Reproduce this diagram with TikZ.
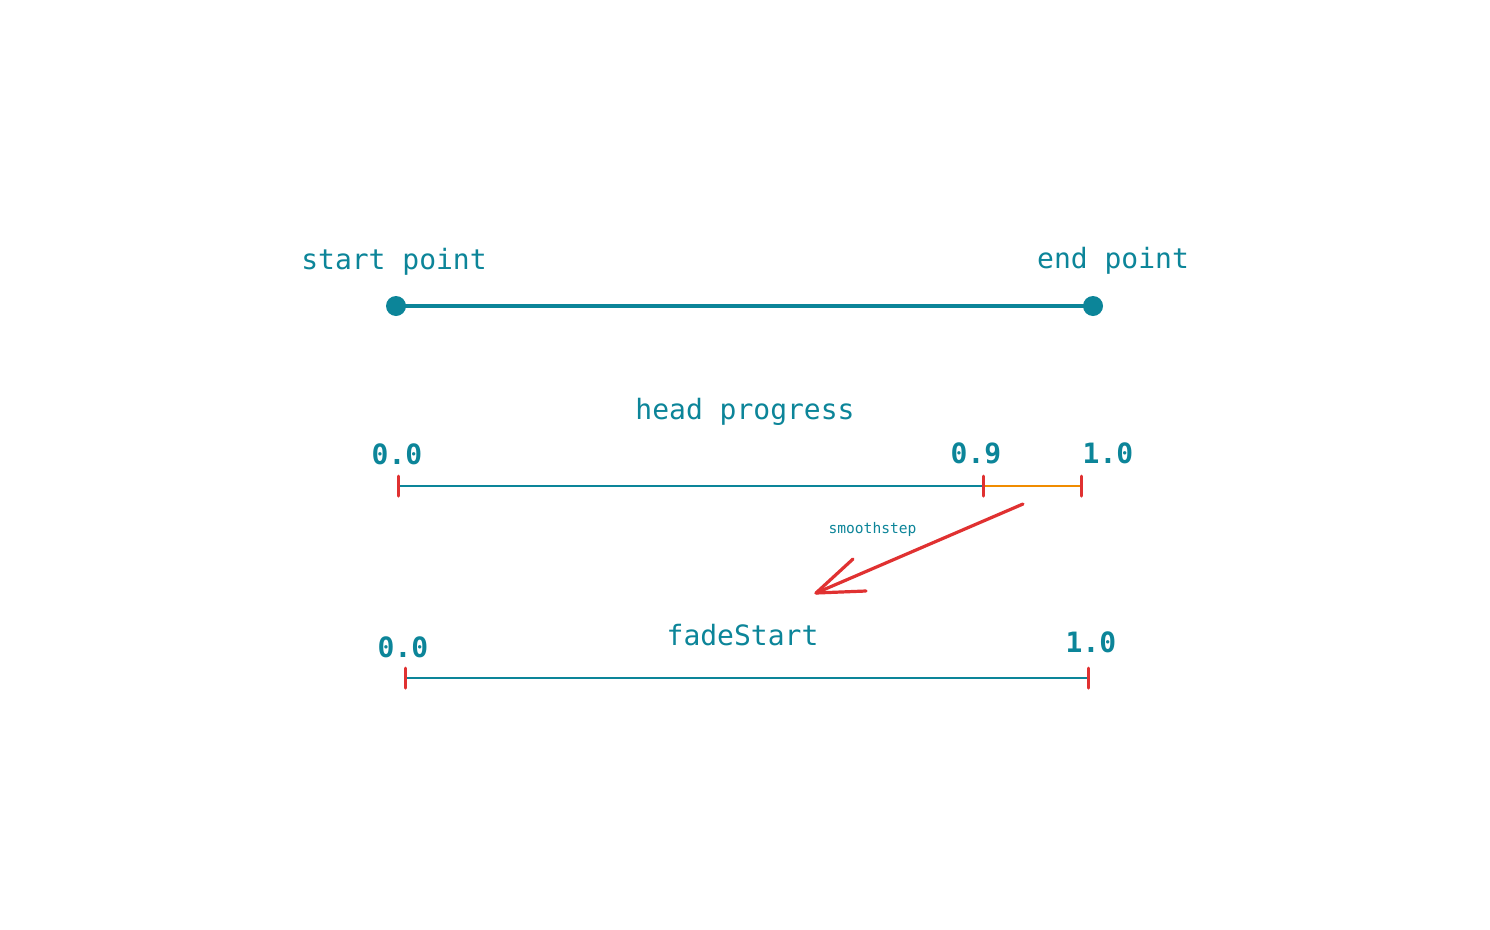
\documentclass[tikz,border=0pt]{standalone}
\usepackage{fontspec}
\setmonofont{DejaVu Sans Mono}
\definecolor{teal}{HTML}{0C8599}
\definecolor{exred}{HTML}{E03131}
\definecolor{exorange}{HTML}{F08C00}
\begin{document}
\begin{tikzpicture}[x=1pt,y=-1pt,
  lbl/.style={text=teal,font=\ttfamily\fontsize{28}{32}\selectfont,anchor=base,inner sep=0pt},
  num/.style={text=teal,font=\ttfamily\bfseries\fontsize{28}{32}\selectfont,anchor=base,inner sep=0pt},
  small/.style={text=teal,font=\ttfamily\fontsize{14.6}{17}\selectfont,anchor=base,inner sep=0pt},
  tick/.style={draw=exred,line width=3pt,line cap=round},
  bar/.style={draw=teal,line width=2pt},
  dot/.style={circle,fill=teal,minimum size=20pt,inner sep=0pt}]
\useasboundingbox[fill=white] (0,0) rectangle (1490,929);
% top line
\node[dot] (sp) at (396,306) {};
\node[dot] (ep) at (1093,306) {};
\draw[teal,line width=4pt] (sp.center) -- (ep.center);
\node[lbl] (spl) at (394,269) {start point};
\node[lbl] (epl) at (1113,268) {end point};
% head progress
\node[lbl] (hp) at (745,419) {head progress};
\node[num] (h0) at (397,464) {0.0};
\node[num] (h9) at (976,463) {0.9};
\node[num] (h1) at (1108,463) {1.0};
\coordinate (a0) at (398,486);
\coordinate (a9) at (983,486);
\coordinate (a1) at (1081,486);
\draw[bar] (a0) -- (a9);
\draw[draw=exorange,line width=2pt] (a9) -- (a1);
\foreach \c in {a0,a9,a1}{\draw[tick] ([yshift=-10pt]\c) -- ([yshift=10pt]\c);}
% arrow
\coordinate (ar0) at (1023,504);
\coordinate (ar1) at (816,593);
\coordinate (ah1) at (853,559);
\coordinate (ah2) at (866,591);
\draw[exred,line width=3.2pt,line cap=round,line join=round] (ar0) -- (ar1);
\draw[exred,line width=3.2pt,line cap=round,line join=round] (ah1) -- (ar1) -- (ah2);
\node[small] (sm) at (872.5,533) {smoothstep};
% fadeStart
\node[lbl] (fs) at (742.5,645) {fadeStart};
\node[num] (f0) at (403,657) {0.0};
\node[num] (f1) at (1091,652) {1.0};
\coordinate (b0) at (405,678);
\coordinate (b1) at (1088,678);
\draw[bar] (b0) -- (b1);
\foreach \c in {b0,b1}{\draw[tick] ([yshift=-10pt]\c) -- ([yshift=10pt]\c);}
\end{tikzpicture}
\end{document}
